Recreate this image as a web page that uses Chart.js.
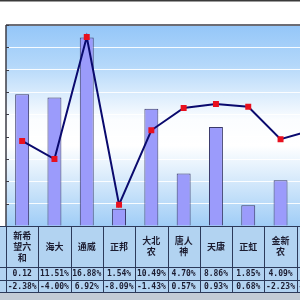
<!DOCTYPE html>
<html><head><meta charset="utf-8">
<script src="https://cdn.jsdelivr.net/npm/chart.js@4/dist/chart.umd.min.js"></script>
<style>
html,body{margin:0;padding:0;width:300px;height:300px;overflow:hidden;background:#fff;}
#wrap{position:absolute;left:0;top:0;width:340px;height:300px;}
</style></head>
<body>
<div id="wrap"><canvas id="c" width="340" height="300"></canvas></div>
<script>
// categories (company names, with line breaks as shown in the table)
const categories = ['新希望六和','海大','通威','正邦','大北农','唐人神','天康','正虹','金新农','其他'];
const categoryLines = [['新希','望六','和'],['海大'],['通威'],['正邦'],['大北','农'],['唐人','神'],['天康'],['正虹'],['金新','农'],['']];
// series 1 (bars, left axis, %)
const barValues = [11.8, 11.51, 16.88, 1.54, 10.49, 4.70, 8.86, 1.85, 4.09, 5.0];
const barLabels = ['0.12','11.51%','16.88%','1.54%','10.49%','4.70%','8.86%','1.85%','4.09%',''];
// series 2 (line, right axis, %)
const lineValues = [-2.38, -4.00, 6.92, -8.09, -1.43, 0.57, 0.93, 0.68, -2.23, -1.40];
const lineLabels = ['-2.38%','-4.00%','6.92%','-8.09%','-1.43%','0.57%','0.93%','0.68%','-2.23%','-1.40%'];
// axis ranges / tick step
const leftMin = 0, leftMax = 18, rightMin = -10, rightMax = 8, tickStep = 2;

const deco = {
  id:'deco',
  beforeDraw(chart){
    const {ctx, chartArea:a} = chart;
    ctx.save();
    ctx.fillStyle='#3a3a3a'; ctx.fillRect(0,0,chart.width,1.5);
    const g = ctx.createLinearGradient(0,a.top,0,a.bottom);
    g.addColorStop(0,'#94c6f8'); g.addColorStop(0.2,'#b4d8fa'); g.addColorStop(0.47,'#fbfdff'); g.addColorStop(0.6,'#ffffff'); g.addColorStop(1,'#a0cdf6');
    ctx.fillStyle=g; ctx.fillRect(a.left,a.top,a.right-a.left,a.bottom-a.top);
    ctx.restore();
  },
  afterDraw(chart){
    const {ctx, chartArea:a, scales:{x,y}} = chart;
    ctx.save();
    ctx.strokeStyle='#3c3c46'; ctx.lineWidth=1.5;
    ctx.beginPath(); ctx.moveTo(a.left,a.top); ctx.lineTo(chart.width,a.top); ctx.stroke();
    ctx.beginPath(); ctx.moveTo(a.left,a.top); ctx.lineTo(a.left,a.bottom); ctx.stroke();
    ctx.lineWidth=1;
    for(let v=leftMin; v<=leftMax; v+=tickStep){
      const py=Math.round(y.getPixelForValue(v))+0.5;
      ctx.beginPath(); ctx.moveTo(a.left,py); ctx.lineTo(a.left+3,py); ctx.stroke();
    }
    const t0=a.bottom, r1=267, r2=280, r3=292;
    ctx.fillStyle='#b2d3f1'; ctx.fillRect(0,t0,chart.width,r3-t0);
    ctx.fillStyle='#c3ccd6'; ctx.fillRect(0,r3,chart.width,chart.height-r3);
    ctx.strokeStyle='#2c3a5a'; ctx.lineWidth=1;
    [t0,r1,r2,r3].forEach(py=>{ctx.beginPath();ctx.moveTo(0,Math.round(py)+0.5);ctx.lineTo(chart.width,Math.round(py)+0.5);ctx.stroke();});
    const half=(x.getPixelForValue(1)-x.getPixelForValue(0))/2;
    for(let i=0;i<=categories.length;i++){
      const px=Math.round(x.getPixelForValue(0)-half+i*2*half)+0.5;
      ctx.beginPath();ctx.moveTo(px,t0);ctx.lineTo(px,r3);ctx.stroke();
    }
    ctx.fillStyle='#1c1c30'; ctx.textAlign='center'; ctx.textBaseline='middle';
    categories.forEach((c,i)=>{
      const cx=x.getPixelForValue(i);
      const lines=categoryLines[i];
      ctx.font='bold 9px "Noto Sans CJK SC"';
      const lh=11, mid=(t0+r1)/2;
      lines.forEach((ln,k)=>{ctx.fillText(ln,cx,mid+(k-(lines.length-1)/2)*lh);});
      ctx.font='bold 8px "DejaVu Sans Mono"';
      ctx.fillText(barLabels[i],cx,(r1+r2)/2+0.5);
      ctx.fillText(lineLabels[i],cx,(r2+r3)/2+0.5);
    });
    ctx.restore();
  }
};

new Chart(document.getElementById('c'),{
  data:{
    labels:categories,
    datasets:[
      {type:'line',data:lineValues,yAxisID:'y1',borderColor:'#0a0a6e',borderWidth:2,
       pointStyle:'rect',pointRadius:2.8,pointBackgroundColor:'#e8101e',pointBorderColor:'#e8101e',tension:0,order:0},
      {type:'bar',data:barValues,yAxisID:'y',backgroundColor:'#9b9bfb',borderColor:'#3a3a6a',borderWidth:1,
       barPercentage:0.52,categoryPercentage:0.83,order:1}
    ]
  },
  options:{
    responsive:false,animation:false,devicePixelRatio:1,
    layout:{padding:{left:4,top:25,right:11,bottom:74}},
    plugins:{legend:{display:false},tooltip:{enabled:false}},
    scales:{
      x:{display:false,offset:true},
      y:{position:'left',min:leftMin,max:leftMax,display:true,
         ticks:{display:false,stepSize:tickStep},
         grid:{color:'rgba(255,255,255,0.9)',lineWidth:1,drawTicks:false},
         border:{display:false}},
      y1:{position:'right',min:rightMin,max:rightMax,display:false,ticks:{stepSize:tickStep}}
    }
  },
  plugins:[deco]
});
</script>
</body></html>
